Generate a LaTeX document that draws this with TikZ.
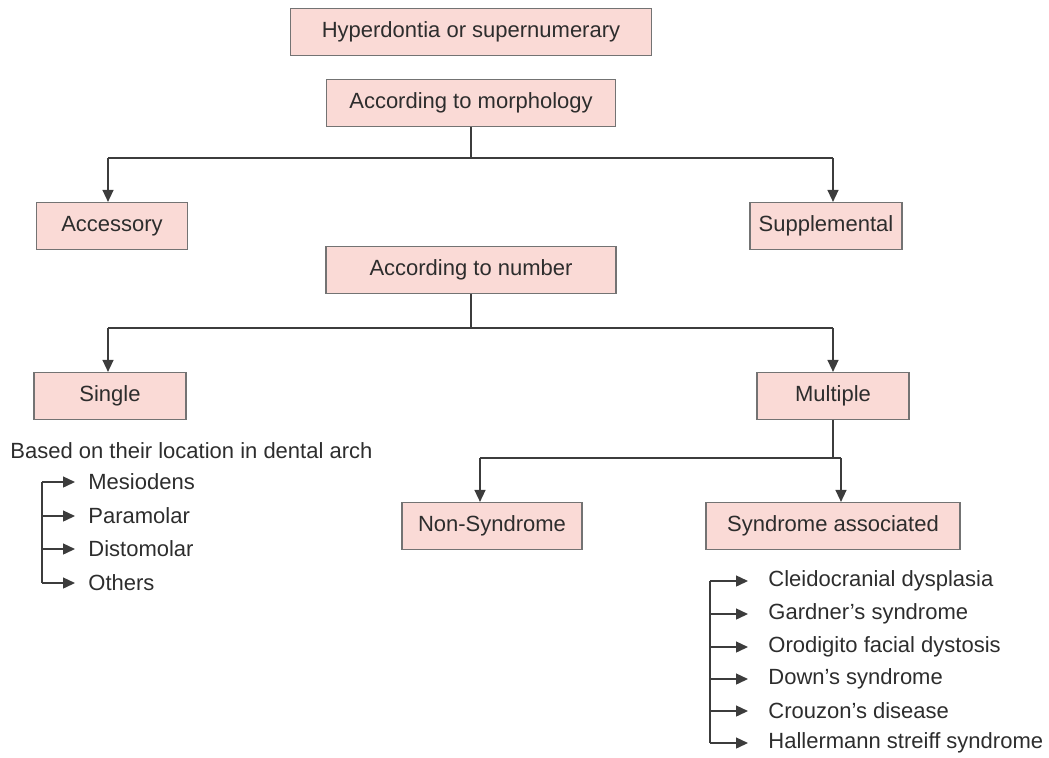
\documentclass[tikz,border=0pt]{standalone}
\usepackage{fontspec}
\setmainfont{Liberation Sans}
\usetikzlibrary{arrows.meta}
\definecolor{boxpink}{RGB}{250,218,214}
\definecolor{boxline}{RGB}{115,115,115}
\definecolor{linegray}{RGB}{60,60,60}
\definecolor{textgray}{RGB}{45,45,45}

\tikzset{
  catbox/.style={draw=boxline, fill=boxpink, line width=0.6pt, minimum height=23.5pt,
    inner sep=2pt, text=textgray, font=\fontsize{11}{13}\selectfont},
  conn/.style={draw=linegray, line width=0.7pt},
  arr/.style={conn, -{Triangle[length=6pt,width=5.5pt]}},
  item/.style={anchor=west, inner sep=0pt, text=textgray, font=\fontsize{11}{13}\selectfont}
}

\begin{document}
\begin{tikzpicture}[x=0.5pt,y=-0.5pt]
  \useasboundingbox (0,0) rectangle (1049,757);
  % top boxes
  \node[catbox, minimum width=180.5pt] (hyper) at (471,32) {Hyperdontia or supernumerary};
  \node[catbox, minimum width=144.5pt] (morph) at (471,103) {According to morphology};
  \node[catbox, minimum width=75.5pt] (acc) at (112,226) {Accessory};
  \node[catbox, minimum width=76pt] (supp) at (826,226) {Supplemental};
  \node[catbox, minimum width=145pt] (number) at (471,270) {According to number};
  \node[catbox, minimum width=76pt] (single) at (110,396) {Single};
  \node[catbox, minimum width=76pt] (multi) at (833,396) {Multiple};
  \node[catbox, minimum width=90pt] (nons) at (492,526) {Non-Syndrome};
  \node[catbox, minimum width=127pt] (synd) at (833,526) {Syndrome associated};

  % morphology split
  \coordinate (m0) at (471,158);
  \coordinate (ml) at (108,158);
  \coordinate (mr) at (833,158);
  \draw[conn] (morph.south) -- (m0);
  \draw[conn] (ml) -- (mr);
  \draw[arr] (ml) -- (ml |- acc.north);
  \draw[arr] (mr) -- (mr |- supp.north);

  % number split
  \coordinate (n0) at (471,328);
  \coordinate (nl) at (108,328);
  \coordinate (nr) at (833,328);
  \draw[conn] (number.south) -- (n0);
  \draw[conn] (nl) -- (nr);
  \draw[arr] (nl) -- (nl |- single.north);
  \draw[arr] (nr) -- (nr |- multi.north);

  % multiple split
  \coordinate (s0) at (833,458);
  \coordinate (sl) at (480,458);
  \coordinate (sr) at (841,458);
  \draw[conn] (multi.south) -- (s0);
  \draw[conn] (sl) -- (sr);
  \draw[arr] (sl) -- (sl |- nons.north);
  \draw[arr] (sr) -- (sr |- synd.north);

  % single by location
  \node[item] (based) at (10,451) {Based on their location in dental arch};
  \node[item] (mes) at (88,482) {Mesiodens};
  \node[item] (para) at (88,516) {Paramolar};
  \node[item] (disto) at (88,549) {Distomolar};
  \node[item] (oth) at (88,583) {Others};
  \coordinate (lt1) at (42,482);
  \coordinate (lt2) at (42,516);
  \coordinate (lt3) at (42,549);
  \coordinate (lt4) at (42,583);
  \draw[conn] (lt1) -- (lt4);
  \draw[arr, shorten >=6.5pt] (lt1) -- (mes.west);
  \draw[arr, shorten >=6.5pt] (lt2) -- (para.west);
  \draw[arr, shorten >=6.5pt] (lt3) -- (disto.west);
  \draw[arr, shorten >=6.5pt] (lt4) -- (oth.west);

  % syndromes
  \node[item] (cleido) at (768,581) {Cleidocranial dysplasia};
  \node[item] (gard) at (768,614) {Gardner's syndrome};
  \node[item] (oro) at (768,647) {Orodigito facial dystosis};
  \node[item] (down) at (768,679) {Down's syndrome};
  \node[item] (crou) at (768,711) {Crouzon's disease};
  \node[item] (hall) at (768,743) {Hallermann streiff syndrome};
  \coordinate (rt1) at (710,581);
  \coordinate (rt2) at (710,614);
  \coordinate (rt3) at (710,647);
  \coordinate (rt4) at (710,679);
  \coordinate (rt5) at (710,711);
  \coordinate (rt6) at (710,743);
  \draw[conn] (rt1) -- (rt6);
  \draw[arr, shorten >=10pt] (rt1) -- (cleido.west);
  \draw[arr, shorten >=10pt] (rt2) -- (gard.west);
  \draw[arr, shorten >=10pt] (rt3) -- (oro.west);
  \draw[arr, shorten >=10pt] (rt4) -- (down.west);
  \draw[arr, shorten >=10pt] (rt5) -- (crou.west);
  \draw[arr, shorten >=10pt] (rt6) -- (hall.west);
\end{tikzpicture}
\end{document}
